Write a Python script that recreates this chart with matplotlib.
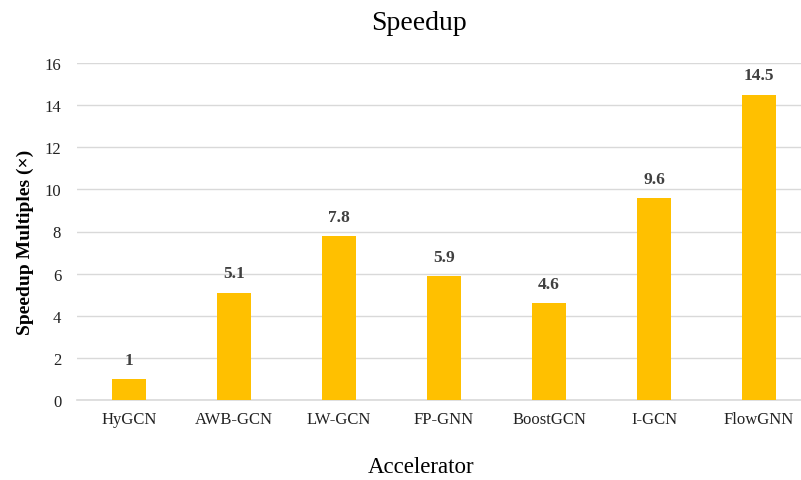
import matplotlib.pyplot as plt
from matplotlib import rcParams
rcParams['font.family'] = 'serif'
rcParams['font.serif'] = ['Liberation Serif', 'DejaVu Serif']

# data
accelerators = ["HyGCN", "AWB-GCN", "LW-GCN", "FP-GNN", "BoostGCN", "I-GCN", "FlowGNN"]
speedup = [1, 5.1, 7.8, 5.9, 4.6, 9.6, 14.5]
value_labels = ["1", "5.1", "7.8", "5.9", "4.6", "9.6", "14.5"]

fig = plt.figure(figsize=(8.01, 4.81), dpi=100)
ax = fig.add_axes([76.5/801, 80/481, 724.5/801, 337/481])

xx = range(len(accelerators))
bars = ax.bar(xx, speedup, width=0.32, color="#FFC000", zorder=3)

# labels above bars
for b, lab in zip(bars, value_labels):
    ax.annotate(lab, (b.get_x() + b.get_width()/2, b.get_height()),
                xytext=(0, 8), textcoords="offset points",
                ha="center", va="bottom", fontsize=12.5, fontweight="bold",
                color="#404040")

# grid and axes look
ax.set_ylim(0, 16)
ax.set_xlim(-0.5, -0.5 + 724.5/105)
ax.set_yticks(range(0, 17, 2))
ax.set_xticks(list(xx))
ax.set_xticklabels(accelerators)
ax.yaxis.grid(True, color="#d9d9d9", linewidth=1, zorder=0)
ax.set_axisbelow(True)
for s in ["top", "right", "left"]:
    ax.spines[s].set_visible(False)
ax.spines["bottom"].set_color("#d9d9d9")
ax.spines["bottom"].set_linewidth(1.2)
ax.tick_params(axis="both", length=0, labelsize=12, colors="#222222")
ax.tick_params(axis="x", pad=8)
ax.tick_params(axis="y", pad=11)

ax.set_ylabel("Speedup Multiples (×)", fontsize=14, fontweight="bold")
ax.yaxis.set_label_coords(-(76.5 - 34)/724.5, (401 - 242)/337)
fig.text(421/801, 1 - 468/481, "Accelerator", fontsize=16.5, ha="center", va="center")
fig.text(419/801, 1 - 24/481, "Speedup", fontsize=20, ha="center", va="center")

fig.savefig("out.png", dpi=100)
